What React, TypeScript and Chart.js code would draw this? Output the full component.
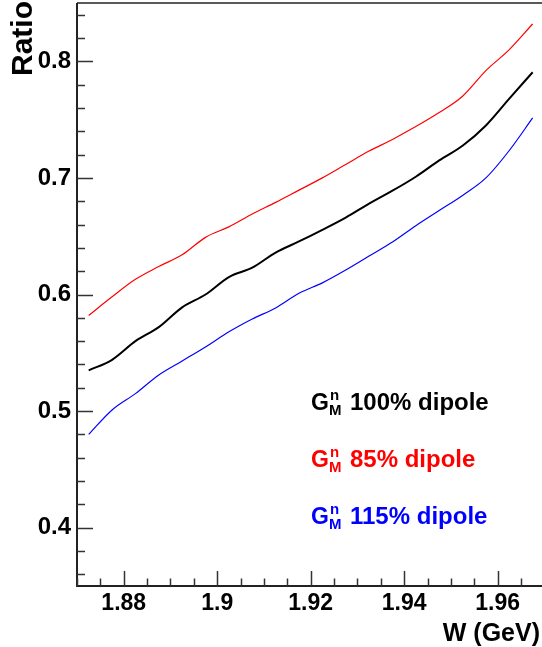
import React, { useEffect, useRef } from "react";
import { Chart, registerables } from "chart.js";

Chart.register(...registerables);

// W (GeV) sample positions
const W_VALUES = [
  1.8725, 1.8775, 1.8825, 1.8875, 1.8925, 1.8975, 1.9025, 1.9075, 1.9125, 1.9175,
  1.9225, 1.9275, 1.9325, 1.9375, 1.9425, 1.9475, 1.9525, 1.9575, 1.9625, 1.9675,
];
// G_M^n 100% dipole
const RATIO_100 = [
  0.535, 0.544, 0.56, 0.572, 0.589, 0.6, 0.615, 0.623, 0.636, 0.6455,
  0.6555, 0.666, 0.678, 0.689, 0.701, 0.715, 0.7276, 0.745, 0.768, 0.7906,
];
// G_M^n 85% dipole
const RATIO_85 = [
  0.582, 0.598, 0.613, 0.624, 0.634, 0.649, 0.658, 0.669, 0.679, 0.6895,
  0.7, 0.7115, 0.723, 0.733, 0.744, 0.756, 0.77, 0.792, 0.81, 0.832,
];
// G_M^n 115% dipole
const RATIO_115 = [
  0.48, 0.501, 0.515, 0.531, 0.543, 0.555, 0.568, 0.579, 0.5885, 0.601,
  0.61, 0.621, 0.633, 0.645, 0.659, 0.672, 0.685, 0.7, 0.7235, 0.7514,
];

const X_TICKS = [1.88, 1.9, 1.92, 1.94, 1.96];
const Y_TICKS = [0.4, 0.5, 0.6, 0.7, 0.8];
const X_MINOR_STEP = 0.005;
const Y_MINOR_STEP = 0.02;
const X_MIN = 1.87;
const X_MAX = 1.9695;
const Y_MIN = 0.35;
const Y_MAX = 0.85;

const SERIES_LABELS = ["100% dipole", "85% dipole", "115% dipole"];
const SERIES_COLORS = ["#000000", "#ff0000", "#0000ff"];
const SERIES_WIDTHS = [2, 1.2, 1.2];
const SERIES_DATA = [RATIO_100, RATIO_85, RATIO_115];

const FONT = "'Liberation Sans', Arial, Helvetica, sans-serif";

const rootStylePlugin = {
  id: "rootStyle",
  afterDraw(chart: any) {
    const ctx = chart.ctx as CanvasRenderingContext2D;
    const area = chart.chartArea;
    const xs = chart.scales.x;
    const ys = chart.scales.y;
    ctx.save();
    // frame
    ctx.strokeStyle = "#222";
    ctx.lineWidth = 2;
    ctx.beginPath();
    ctx.moveTo(area.left, area.top);
    ctx.lineTo(area.left, area.bottom);
    ctx.lineTo(area.right, area.bottom);
    ctx.stroke();
    ctx.lineWidth = 1.5;
    ctx.beginPath();
    ctx.moveTo(area.left, area.top);
    ctx.lineTo(area.right, area.top);
    ctx.stroke();

    // ticks
    ctx.lineWidth = 1.5;
    ctx.strokeStyle = "#333";
    const nx = Math.round((X_MAX - X_MIN) / X_MINOR_STEP);
    for (let i = 0; i <= nx; i++) {
      const v = X_MIN + i * X_MINOR_STEP;
      if (v > X_MAX) break;
      const isMajor = Math.abs(v / 0.02 - Math.round(v / 0.02)) < 1e-6;
      const px = Math.round(xs.getPixelForValue(v)) + 0.5;
      const len = isMajor ? 15 : 7.5;
      ctx.beginPath();
      ctx.moveTo(px, area.bottom);
      ctx.lineTo(px, area.bottom - len);
      ctx.stroke();
    }
    const ny = Math.round((Y_MAX - Y_MIN) / Y_MINOR_STEP);
    for (let i = 0; i <= ny; i++) {
      const v = 0.36 + i * Y_MINOR_STEP;
      if (v > Y_MAX) break;
      const isMajor = Math.abs(v / 0.1 - Math.round(v / 0.1)) < 1e-6;
      const py = Math.round(ys.getPixelForValue(v)) + 0.5;
      const len = isMajor ? 16 : 8;
      ctx.beginPath();
      ctx.moveTo(area.left, py);
      ctx.lineTo(area.left + len, py);
      ctx.stroke();
    }

    // axis titles
    ctx.fillStyle = "#000";
    ctx.font = `bold 30px ${FONT}`;
    ctx.textBaseline = "alphabetic";
    ctx.textAlign = "left";
    ctx.save();
    ctx.translate(32, 76);
    ctx.rotate(-Math.PI / 2);
    ctx.fillText("Ratio", 0, 0);
    ctx.restore();

    ctx.font = `bold 25px ${FONT}`;
    ctx.textAlign = "right";
    ctx.fillText("W (GeV)", 540, 641);

    // legend texts
    const gx = 311;
    const baselines = [410, 467, 524];
    for (let i = 0; i < SERIES_LABELS.length; i++) {
      const by = baselines[i];
      ctx.fillStyle = SERIES_COLORS[i];
      ctx.textAlign = "left";
      ctx.font = `bold 23px ${FONT}`;
      ctx.fillText("G", gx, by);
      ctx.font = `bold 15px ${FONT}`;
      ctx.fillText("n", gx + 19, by - 10);
      ctx.fillText("M", gx + 18, by + 5);
      ctx.font = `bold 24px ${FONT}`;
      ctx.fillText(SERIES_LABELS[i], gx + 39, by);
    }
    ctx.restore();
  },
};

export default function App() {
  const ref = useRef<HTMLCanvasElement | null>(null);

  useEffect(() => {
    if (!ref.current) return;
    const chart = new Chart(ref.current, {
      type: "line",
      data: {
        datasets: SERIES_DATA.map((arr, i) => ({
          label: SERIES_LABELS[i],
          data: W_VALUES.map((w, j) => ({ x: w, y: arr[j] })),
          borderColor: SERIES_COLORS[i],
          borderWidth: SERIES_WIDTHS[i],
          pointRadius: 0,
          fill: false,
          cubicInterpolationMode: "monotone" as const,
        })),
      },
      options: {
        responsive: false,
        animation: false,
        devicePixelRatio: 1,
        layout: { padding: { top: 3, right: 0, left: 0, bottom: 0 } },
        plugins: { legend: { display: false }, tooltip: { enabled: false } },
        scales: {
          x: {
            type: "linear",
            min: X_MIN,
            max: X_MAX,
            grid: { display: false, drawTicks: false },
            border: { display: false },
            afterBuildTicks: (s: any) => {
              s.ticks = X_TICKS.map((v) => ({ value: v }));
            },
            afterFit: (s: any) => {
              s.height = 61;
              s.paddingLeft = 0;
              s.paddingRight = 0;
              s.paddingTop = 0;
              s.paddingBottom = 0;
            },
            ticks: {
              autoSkip: false,
              maxRotation: 0,
              padding: 4,
              color: "#000",
              font: { family: FONT, size: 23, weight: "bold" },
              callback: (v: any) => String(+Number(v).toFixed(2)),
            },
          },
          y: {
            type: "linear",
            min: Y_MIN,
            max: Y_MAX,
            grid: { display: false, drawTicks: false },
            border: { display: false },
            afterBuildTicks: (s: any) => {
              s.ticks = Y_TICKS.map((v) => ({ value: v }));
            },
            afterFit: (s: any) => {
              s.width = 77;
              s.paddingLeft = 0;
              s.paddingRight = 0;
              s.paddingTop = 0;
              s.paddingBottom = 0;
            },
            ticks: {
              padding: 6,
              color: "#000",
              font: { family: FONT, size: 24, weight: "bold" },
              callback: (v: any) => Number(v).toFixed(1),
            },
          },
        },
      },
      plugins: [rootStylePlugin],
    });
    return () => chart.destroy();
  }, []);

  return (
    <div style={{ position: "fixed", left: 0, top: 0, width: 542, height: 647, background: "#fff" }}>
      <canvas ref={ref} width={542} height={647} style={{ display: "block" }} />
    </div>
  );
}
